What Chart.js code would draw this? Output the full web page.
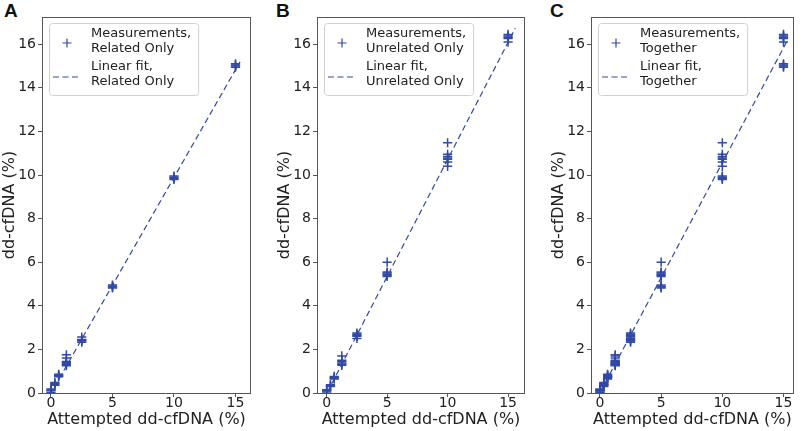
<!DOCTYPE html>
<html><head><meta charset="utf-8">
<script src="https://cdn.jsdelivr.net/npm/chart.js@4.4.0/dist/chart.umd.min.js"></script>
<style>
html,body{margin:0;padding:0;background:#fff;width:800px;height:431px;overflow:hidden;position:relative}
canvas{position:absolute;top:0}
.lbl{position:absolute;font:bold 19px "Liberation Sans",Arial,sans-serif;color:#111}
</style></head><body>
<div class="lbl" style="left:4px;top:0px">A</div>
<div class="lbl" style="left:276px;top:0px">B</div>
<div class="lbl" style="left:550px;top:0px">C</div>
<canvas id="cA" width="270" height="431" style="left:0px"></canvas>
<canvas id="cB" width="270" height="431" style="left:275px"></canvas>
<canvas id="cC" width="251" height="431" style="left:549px"></canvas>
<script>
// ---- data ----
const attemptedLevels = [0, 0.3125, 0.625, 1.25, 2.5, 5, 10, 15];
const relatedMeasured = [
  [0.02, 0.1, 0.14, 0.18],
  [0.36, 0.4, 0.44, 0.48],
  [0.74, 0.78, 0.82, 0.86],
  [1.75, 1.6, 1.45, 1.4, 1.35, 1.3, 1.25],
  [2.57, 2.46, 2.42, 2.38, 2.33],
  [4.95, 4.9, 4.86, 4.82],
  [9.95, 9.9, 9.85, 9.8],
  [15.1, 15.05, 15.0, 14.95]
];
const unrelatedMeasured = [
  [0.05, 0.1, 0.15],
  [0.3, 0.34, 0.38],
  [0.64, 0.68, 0.72, 0.76],
  [1.7, 1.5, 1.44, 1.38, 1.32, 1.27],
  [2.75, 2.7, 2.65, 2.6, 2.5],
  [6.0, 5.55, 5.5, 5.45, 5.4, 5.35],
  [11.48, 10.95, 10.85, 10.78, 10.72, 10.6, 10.4],
  [16.45, 16.38, 16.32, 16.26, 16.1]
];
const fitRelatedX = [-0.1, 15.37];
const fitRelatedY = [-0.1, 15.2];
const fitUnrelatedX = [-0.3, 15.6];
const fitUnrelatedY = [-0.35, 16.73];
const fitTogetherX = [-0.3, 15.25];
const fitTogetherY = [-0.3, 16.1];
const xTickValues = [0, 5, 10, 15];
const yTickValues = [0, 2, 4, 6, 8, 10, 12, 14, 16];
const groupNames = ['Related Only', 'Unrelated Only', 'Together'];

// ---- helpers ----
const BLUE = '#3249a6';
const FONT = '"DejaVu Sans", sans-serif';
function toPoints(levels, measured) {
  const pts = [];
  levels.forEach((x, i) => measured[i].forEach(y => pts.push({x: x, y: y})));
  return pts;
}
function toLine(xs, ys) { return xs.map((x, i) => ({x: x, y: ys[i]})); }

const framePlugin = {
  id: 'frame',
  afterDraw(chart) {
    const a = chart.chartArea, ctx = chart.ctx;
    ctx.save();
    ctx.strokeStyle = '#555'; ctx.lineWidth = 1;
    ctx.strokeRect(Math.round(a.left) + 0.5, Math.round(a.top) + 0.5,
                   Math.round(a.right - a.left) - 1, Math.round(a.bottom - a.top));
    ctx.restore();
  }
};
const legendPlugin = {
  id: 'panelLegend',
  afterDatasetsDraw(chart, args, opts) {
    const a = chart.chartArea, ctx = chart.ctx;
    const lines = opts.lines;
    ctx.save();
    ctx.font = '13px ' + FONT;
    let maxW = 0;
    lines.forEach(t => { maxW = Math.max(maxW, ctx.measureText(t).width); });
    const bx = a.left + 7, by = a.top + 6, bw = 42 + maxW + 7, bh = 72;
    ctx.beginPath();
    if (ctx.roundRect) ctx.roundRect(bx + 0.5, by + 0.5, bw, bh, 3); else ctx.rect(bx + 0.5, by + 0.5, bw, bh);
    ctx.fillStyle = 'rgba(255,255,255,0.85)'; ctx.fill();
    ctx.strokeStyle = '#d0d0d0'; ctx.lineWidth = 1; ctx.stroke();
    // marker
    const mx = a.left + 25, my = a.top + 26;
    ctx.strokeStyle = BLUE; ctx.lineWidth = 1.2;
    ctx.beginPath(); ctx.moveTo(mx - 4.5, my); ctx.lineTo(mx + 4.5, my);
    ctx.moveTo(mx, my - 4.5); ctx.lineTo(mx, my + 4.5); ctx.stroke();
    // dashed line
    ctx.setLineDash([6, 3.5]);
    ctx.beginPath(); ctx.moveTo(a.left + 11, a.top + 60); ctx.lineTo(a.left + 38, a.top + 60); ctx.stroke();
    ctx.setLineDash([]);
    ctx.fillStyle = '#222'; ctx.textBaseline = 'middle'; ctx.textAlign = 'left';
    const ys = [17, 32, 50, 65];
    lines.forEach((t, i) => ctx.fillText(t, a.left + 49, a.top + ys[i]));
    ctx.restore();
  }
};

function makeChart(id, points, line, xMin, xMax, name, rightPad) {
  new Chart(document.getElementById(id), {
    type: 'scatter',
    data: {
      datasets: [
        { data: points, pointStyle: 'cross', pointRadius: 4.6, pointBorderWidth: 1.5,
          borderColor: BLUE, backgroundColor: BLUE, pointHoverRadius: 4.6 },
        { type: 'line', data: line, showLine: true, pointRadius: 0, borderColor: BLUE,
          borderWidth: 1.2, borderDash: [6, 3.5], fill: false, tension: 0 }
      ]
    },
    options: {
      responsive: false, animation: false, events: [],
      layout: { padding: { top: 17, right: rightPad, bottom: 0, left: 0 } },
      plugins: { legend: { display: false }, tooltip: { enabled: false },
        panelLegend: { lines: ['Measurements,', name, 'Linear fit,', name] } },
      scales: {
        x: {
          type: 'linear', min: xMin, max: xMax,
          afterBuildTicks: s => { s.ticks = xTickValues.map(v => ({value: v})); },
          afterFit: s => { s.height = 38; },
          grid: { display: true, drawOnChartArea: false, drawTicks: true, tickLength: 4, color: '#555' },
          border: { display: false },
          ticks: { color: '#222', font: { family: FONT, size: 14 }, padding: -2, maxRotation: 0 },
          title: { display: true, text: 'Attempted dd-cfDNA (%)', color: '#222',
                   font: { family: FONT, size: 16 }, padding: { top: 0, bottom: 2 } }
        },
        y: {
          type: 'linear', min: 0, max: 17.25,
          afterBuildTicks: s => { s.ticks = yTickValues.map(v => ({value: v})); },
          afterFit: s => { s.width = 42; },
          grid: { display: true, drawOnChartArea: false, drawTicks: true, tickLength: 4, color: '#555' },
          border: { display: false },
          ticks: { color: '#222', font: { family: FONT, size: 14 }, padding: 2 },
          title: { display: true, text: 'dd-cfDNA (%)', color: '#222',
                   font: { family: FONT, size: 16 }, padding: { top: 0, bottom: 0 } }
        }
      }
    },
    plugins: [framePlugin, legendPlugin]
  });
}

const relatedPts = toPoints(attemptedLevels, relatedMeasured);
const unrelatedPts = toPoints(attemptedLevels, unrelatedMeasured);
makeChart('cA', relatedPts, toLine(fitRelatedX, fitRelatedY), -0.73, 16.26, groupNames[0], 19);
makeChart('cB', unrelatedPts, toLine(fitUnrelatedX, fitUnrelatedY), -0.8, 16.4, groupNames[1], 20);
makeChart('cC', relatedPts.concat(unrelatedPts), toLine(fitTogetherX, fitTogetherY), -0.73, 15.85, groupNames[2], 5);
</script>
</body></html>
